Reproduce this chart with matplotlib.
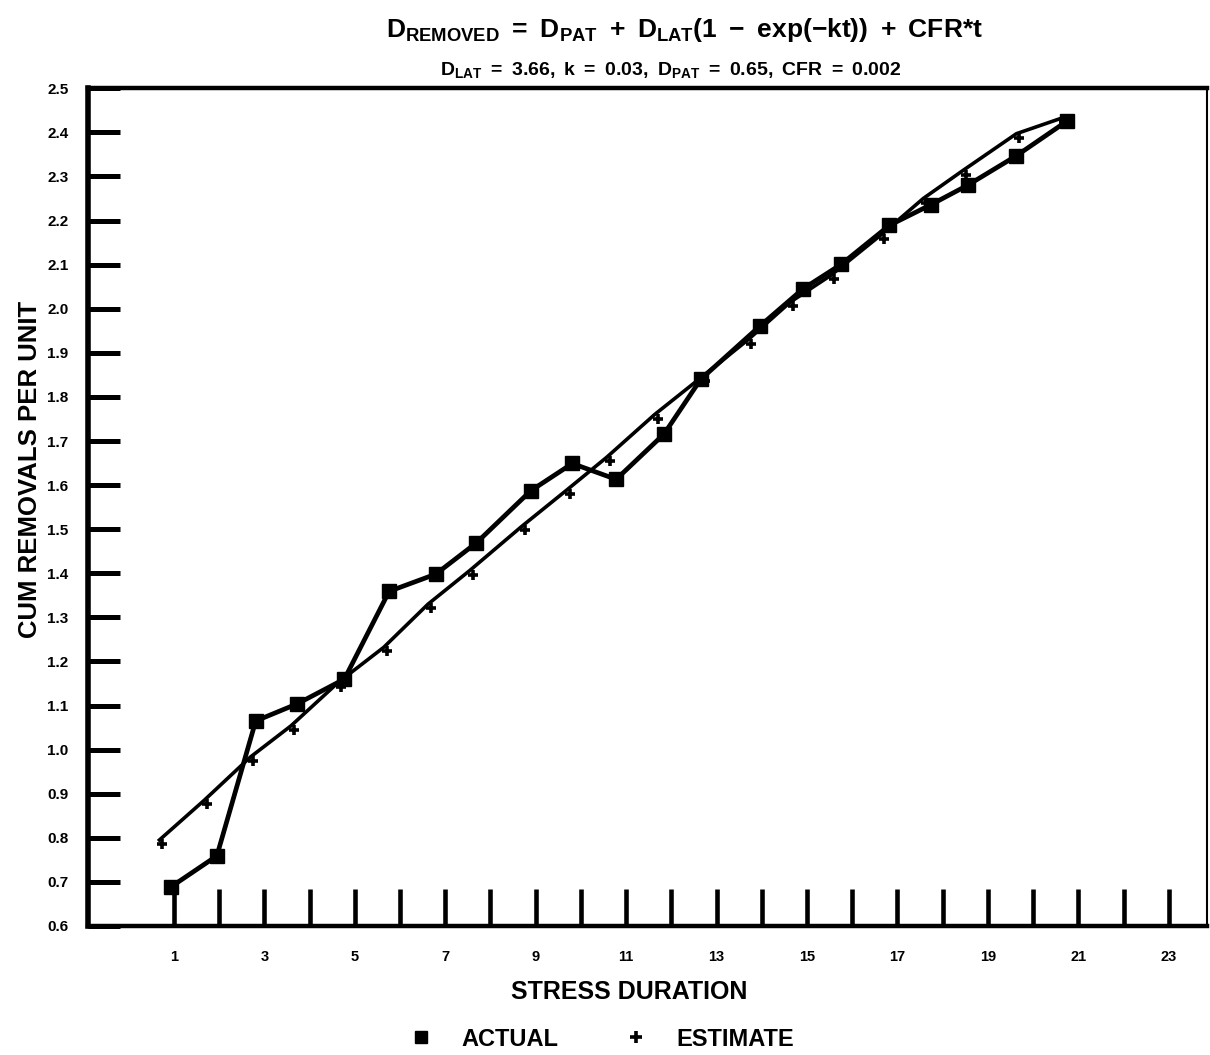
import matplotlib
matplotlib.use('Agg')
import matplotlib.pyplot as plt
from matplotlib.lines import Line2D
import matplotlib.transforms as mtransforms

# ---- data ----
act_x = [0.94, 1.95, 2.81, 3.73, 4.77, 5.76, 6.79, 7.69, 8.89, 9.81, 10.78,
         11.84, 12.65, 13.95, 14.91, 15.76, 16.82, 17.74, 18.55, 19.63, 20.74]
act_y = [0.689, 0.759, 1.065, 1.104, 1.160, 1.359, 1.398, 1.469, 1.587, 1.649, 1.613,
         1.716, 1.840, 1.960, 2.045, 2.101, 2.189, 2.236, 2.280, 2.347, 2.425]

est_x = [0.68, 1.67, 2.69, 3.59, 4.63, 5.64, 6.62, 7.54, 8.70, 9.69, 10.57,
         11.63, 12.67, 13.70, 14.63, 15.53, 16.63, 17.57, 18.44, 19.63, 20.62]
est_y = [0.795, 0.885, 0.983, 1.054, 1.152, 1.232, 1.330, 1.406, 1.507, 1.589, 1.663,
         1.760, 1.845, 1.930, 2.015, 2.076, 2.167, 2.250, 2.313, 2.397, 2.432]

x_major = [1, 3, 5, 7, 9, 11, 13, 15, 17, 19, 21, 23]
x_minor = [2, 4, 6, 8, 10, 12, 14, 16, 18, 20, 22]
y_ticks = [0.6, 0.7, 0.8, 0.9, 1.0, 1.1, 1.2, 1.3, 1.4, 1.5, 1.6, 1.7, 1.8, 1.9,
           2.0, 2.1, 2.2, 2.3, 2.4, 2.5]
y_labels = ['0.6', '0.7', '0.8', '0.9', '1.0', '1.1', '1.2', '1.3', '1.4', '1.5',
            '1.6', '1.7', '1.8', '1.9', '2.0', '2.1', '2.2', '2.3', '2.4', '2.5']

title_txt = r'$\mathbf{D_{REMOVED}\ =\ D_{PAT}\ +\ D_{LAT}(1\ -\ exp({-}kt))\ +\ CFR{*}t}$'
sub_txt = r'$\mathbf{D_{LAT}\ =\ 3.66,\ k\ =\ 0.03,\ D_{PAT}\ =\ 0.65,\ CFR\ =\ 0.002}$'
xlabel = 'STRESS DURATION'
ylabel = 'CUM REMOVALS PER UNIT'
legend_labels = ['ACTUAL', 'ESTIMATE']

# ---- style ----
plt.rcParams['font.family'] = ['Liberation Sans', 'DejaVu Sans']
plt.rcParams['font.weight'] = 'bold'
plt.rcParams['mathtext.fontset'] = 'custom'
plt.rcParams['mathtext.rm'] = 'Liberation Sans:bold'
plt.rcParams['mathtext.bf'] = 'Liberation Sans:bold'
plt.rcParams['mathtext.it'] = 'Liberation Sans:bold'
plt.rcParams['mathtext.sf'] = 'Liberation Sans:bold'

fig = plt.figure(figsize=(12.1, 10.55), dpi=100)
ax = fig.add_axes([0.0727, 0.1223, 0.925, 0.794])

ax.set_xlim(-0.9, 23.85)
ax.set_ylim(0.6, 2.5)

# estimate line, markers drawn slightly offset as in the scan
ax.plot(est_x, est_y, color='black', lw=2.6, zorder=3)
off = mtransforms.ScaledTranslation(3 / 100, -4 / 100, fig.dpi_scale_trans)
ax.plot(est_x, est_y, ls='none', marker='+', ms=7, mew=2.6, color='black',
        transform=ax.transData + off, zorder=3)

# actual line
ax.plot(act_x, act_y, color='black', lw=3.4, marker='s', ms=10, zorder=4)

ax.set_xticks(x_major)
ax.set_xticks(x_minor, minor=True)
ax.set_xticklabels([str(v) for v in x_major])
ax.set_yticks(y_ticks)
ax.set_yticklabels(y_labels)

ax.tick_params(axis='x', which='both', direction='in', length=27, width=3.3,
               labelsize=10.5, pad=17)
ax.tick_params(axis='y', which='both', direction='in', length=23, width=3.6,
               labelsize=11, pad=14)
for lab in ax.get_xticklabels() + ax.get_yticklabels():
    lab.set_fontweight('bold')

ax.spines['left'].set_linewidth(4)
ax.spines['bottom'].set_linewidth(3.2)
ax.spines['top'].set_linewidth(3.2)
ax.spines['right'].set_linewidth(1.5)

ax.set_xlabel(xlabel, fontsize=18, fontweight='bold')
ax.xaxis.set_label_coords(0.484, -0.064)
ax.set_ylabel(ylabel, fontsize=18.5, fontweight='bold')
ax.yaxis.set_label_coords(-0.041, 0.545)

fig.text(0.566, 0.972, title_txt, ha='center', va='center', fontsize=19)
fig.text(0.554, 0.934, sub_txt, ha='center', va='center', fontsize=14)

handles = [Line2D([], [], ls='none', marker='s', ms=9, color='black'),
           Line2D([], [], ls='none', marker='+', ms=9, mew=2.6, color='black')]
fig.legend(handles, legend_labels, loc='center', bbox_to_anchor=(0.497, 0.015),
           ncol=2, frameon=False, handletextpad=1.2,
           columnspacing=2.8, handlelength=1.0,
           prop={'weight': 'bold', 'size': 17})

fig.savefig('out.png', dpi=100)
